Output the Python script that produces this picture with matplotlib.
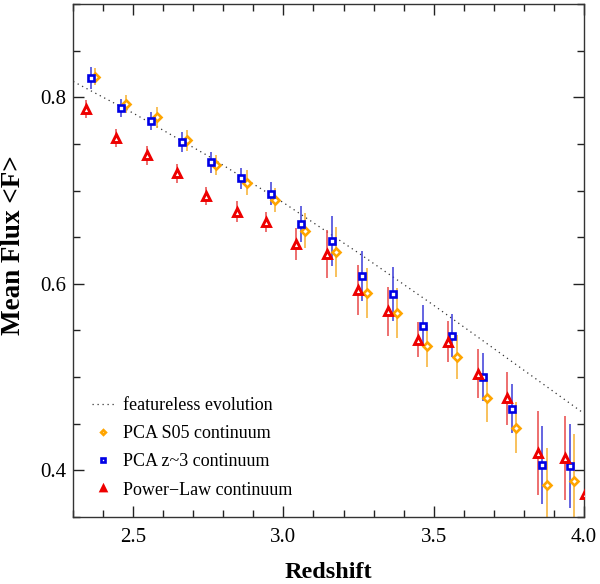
import matplotlib
matplotlib.use("Agg")
import matplotlib.pyplot as plt
from matplotlib.ticker import MultipleLocator

plt.rcParams['font.family'] = ['Liberation Serif', 'DejaVu Serif']
plt.rcParams['mathtext.fontset'] = 'stix'

# featureless evolution curve
z_line = [2.3, 2.5, 2.75, 3.0, 3.25, 3.5, 3.75, 4.0]
f_line = [0.817, 0.783, 0.737, 0.687, 0.633, 0.577, 0.519, 0.461]

# PCA S05 continuum (orange)
z_s05 = [2.374, 2.477, 2.578, 2.679, 2.777, 2.877, 2.973, 3.073, 3.176,
         3.279, 3.378, 3.479, 3.578, 3.678, 3.774, 3.877, 3.969]
f_s05 = [0.822, 0.7925, 0.7785, 0.7538, 0.7272, 0.7086, 0.6899, 0.657, 0.634,
         0.5903, 0.5688, 0.5337, 0.5218, 0.4777, 0.4458, 0.3839, 0.3888]
e_s05 = [0.009, 0.0097, 0.011, 0.011, 0.011, 0.013, 0.013, 0.019, 0.027,
         0.027, 0.027, 0.0226, 0.0237, 0.026, 0.027, 0.04, 0.05]

# PCA z~3 continuum (blue)
z_z3 = [2.358, 2.46, 2.56, 2.662, 2.76, 2.86, 2.959, 3.059, 3.161,
        3.263, 3.364, 3.463, 3.562, 3.663, 3.76, 3.86, 3.953]
f_z3 = [0.8208, 0.7888, 0.7742, 0.7523, 0.7301, 0.713, 0.6968, 0.6641, 0.6458,
        0.6082, 0.589, 0.5552, 0.5444, 0.500, 0.4662, 0.4057, 0.405]
e_z3 = [0.012, 0.0097, 0.0097, 0.011, 0.011, 0.011, 0.012, 0.019, 0.027,
        0.027, 0.029, 0.0215, 0.023, 0.026, 0.026, 0.042, 0.045]

# Power-Law continuum (red)
z_pl = [2.342, 2.444, 2.547, 2.647, 2.743, 2.846, 2.943, 3.043, 3.146,
        3.249, 3.349, 3.448, 3.548, 3.647, 3.744, 3.846, 3.937, 4.003]
f_pl = [0.7874, 0.7562, 0.7376, 0.7183, 0.6942, 0.6775, 0.6662, 0.6423, 0.6318,
        0.5931, 0.5705, 0.5401, 0.538, 0.5035, 0.477, 0.4189, 0.4129, 0.3745]
e_pl = [0.0097, 0.0097, 0.0097, 0.0097, 0.0097, 0.011, 0.011, 0.017, 0.026,
        0.027, 0.026, 0.019, 0.022, 0.026, 0.028, 0.045, 0.045, 0.0]

fig = plt.figure(figsize=(6.0, 5.84), dpi=100)
ax = fig.add_axes([0.122, 0.115, 0.851, 0.878])

ax.plot(z_line, f_line, linestyle=(0, (1, 3)), color='#333333', lw=0.9,
        label='featureless evolution')

def series(z, f, e, mk, col, barcol, ms, mew, label):
    ax.errorbar(z, f, yerr=e, fmt='none', ecolor=barcol, elinewidth=1.1,
                capsize=0, zorder=2)
    ax.plot(z, f, linestyle='none', marker=mk, ms=ms, mfc='white', mec=col,
            mew=mew, zorder=3, label=label)

series(z_s05, f_s05, e_s05, 'D', '#FFA500', '#F7B030', 3.7, 1.9, 'PCA S05 continuum')
series(z_z3, f_z3, e_z3, 's', '#0000E6', '#3A3AD8', 4.0, 1.9, 'PCA z~3 continuum')
series(z_pl, f_pl, e_pl, '^', '#EE0000', '#E84848', 5.4, 2.1, 'Power\u2212Law continuum')

ax.set_xlim(2.3, 4.0)
ax.set_ylim(0.35, 0.9)
ax.xaxis.set_major_locator(MultipleLocator(0.5))
ax.xaxis.set_minor_locator(MultipleLocator(0.1))
ax.yaxis.set_major_locator(MultipleLocator(0.2))
ax.yaxis.set_minor_locator(MultipleLocator(0.05))
ax.xaxis.set_major_formatter(plt.FormatStrFormatter('%.1f'))
ax.yaxis.set_major_formatter(plt.FormatStrFormatter('%.1f'))
ax.tick_params(which='both', direction='in', top=True, right=True,
               labelsize=15, color='#222222')
ax.tick_params(which='major', length=8, width=1)
ax.tick_params(which='minor', length=5, width=1)
ax.tick_params(axis='x', pad=8)
ax.tick_params(axis='y', pad=5)
for s in ax.spines.values():
    s.set_color('#333333')
    s.set_linewidth(1.0)

ax.set_xlabel('Redshift', fontsize=17.5, fontweight='bold')
ax.xaxis.set_label_coords(0.5, -0.108)
ax.xaxis.label.set_va('center')
ax.set_ylabel('Mean Flux <F>', fontsize=19.5, fontweight='bold')
ax.yaxis.set_label_coords(-0.116, 0.53)
ax.yaxis.label.set_va('center')

ax.legend(loc='lower left', bbox_to_anchor=(0.005, 0.004), frameon=False,
          fontsize=13, handlelength=1.2, handletextpad=0.5,
          labelspacing=0.62, markerscale=0.65)

fig.savefig('out.png', dpi=100)
